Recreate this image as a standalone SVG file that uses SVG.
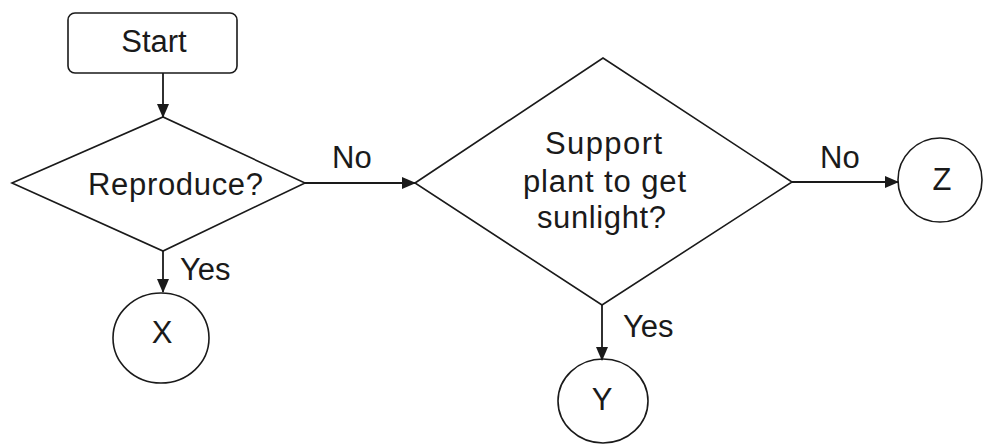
<svg xmlns="http://www.w3.org/2000/svg" width="985" height="444" viewBox="0 0 985 444">
<style>
.shape{fill:none;stroke:#1a1a1a;stroke-width:1.6}
.conn{fill:none;stroke:#1a1a1a;stroke-width:1.8}
text{font-family:"Liberation Sans",Arial,sans-serif;font-size:31px;fill:#1a1a1a}
.c{text-anchor:middle}
</style>
<defs>
<marker id="arr" markerUnits="userSpaceOnUse" markerWidth="14" markerHeight="12" refX="13" refY="6" orient="auto">
<path d="M0,0 L14,6 L0,12 Z" fill="#1a1a1a"/>
</marker>
</defs>
<rect width="985" height="444" fill="#ffffff"/>
<g id="connectors">
<line class="conn" x1="163" y1="73" x2="163" y2="117" marker-end="url(#arr)"/>
<line class="conn" x1="305" y1="183" x2="415" y2="183" marker-end="url(#arr)"/>
<line class="conn" x1="163" y1="251" x2="163" y2="292" marker-end="url(#arr)"/>
<line class="conn" x1="792" y1="182" x2="898" y2="182" marker-end="url(#arr)"/>
<line class="conn" x1="602" y1="305" x2="602" y2="360" marker-end="url(#arr)"/>
<text x="332" y="168">No</text>
<text x="820" y="168">No</text>
<text x="180" y="280">Yes</text>
<text x="623" y="337">Yes</text>
</g>
<g id="start">
<rect class="shape" x="68" y="13" width="169" height="60" rx="7" stroke-width="2"/>
<text class="c" x="154" y="52">Start</text>
</g>
<g id="reproduce">
<polygon class="shape" points="12,183 163,117 305,183 163,251"/>
<text x="88" y="195" textLength="175" lengthAdjust="spacing">Reproduce?</text>
</g>
<g id="support">
<polygon class="shape" points="415,183 603,58 792,182 602,305"/>
<text x="545" y="154" textLength="117" lengthAdjust="spacing">Support</text>
<text x="523" y="192" textLength="163" lengthAdjust="spacing">plant to get</text>
<text x="537" y="228" textLength="129" lengthAdjust="spacing">sunlight?</text>
</g>
<g id="x">
<ellipse class="shape" cx="161" cy="338" rx="48" ry="45"/>
<text class="c" x="162" y="343">X</text>
</g>
<g id="y">
<ellipse class="shape" cx="603" cy="401" rx="45" ry="42"/>
<text class="c" x="602" y="410">Y</text>
</g>
<g id="z">
<ellipse class="shape" cx="940" cy="180" rx="42" ry="42"/>
<text class="c" x="942" y="190">Z</text>
</g>
</svg>
